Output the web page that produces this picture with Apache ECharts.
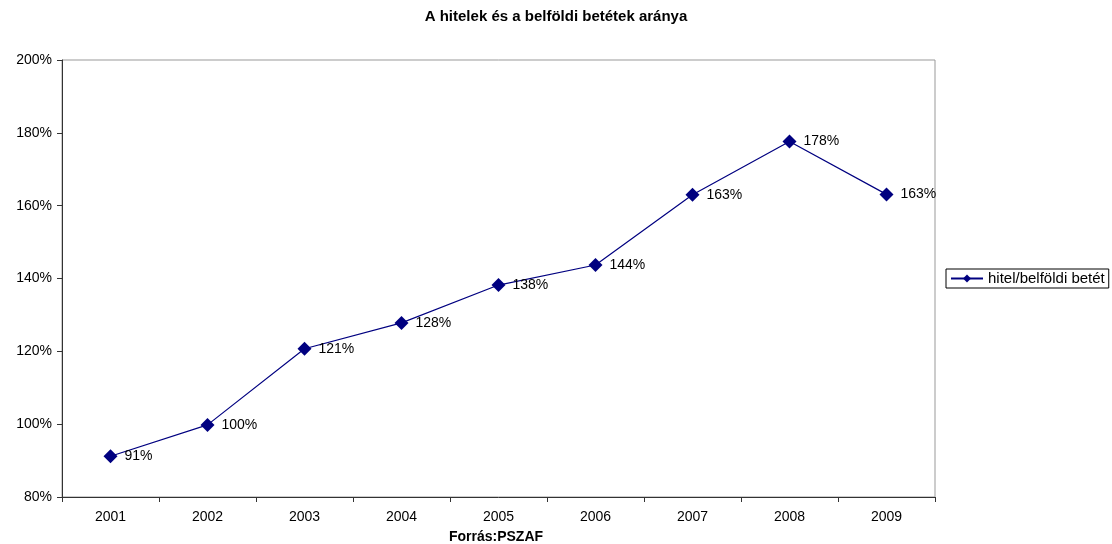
<!DOCTYPE html>
<html><head><meta charset="utf-8">
<script src="https://cdn.jsdelivr.net/npm/echarts@6/dist/echarts.min.js"></script>
<style>html,body{margin:0;padding:0;background:#fff}#c{width:1112px;height:544px}</style>
</head><body><div id="c"></div>
<script>
const categories = ['2001','2002','2003','2004','2005','2006','2007','2008','2009'];
const seriesName = 'hitel/belföldi betét';
const values = [91.2, 99.8, 120.7, 127.8, 138.2, 143.7, 163.0, 177.6, 163.1];
const yTicks = {min: 80, max: 200, interval: 20};

const chart = echarts.init(document.getElementById('c'), null, {renderer: 'canvas'});
const font = '"Liberation Sans", Arial, sans-serif';
chart.setOption({
  animation: false,
  backgroundColor: '#fff',
  title: [
    {text: 'A hitelek és a belföldi betétek aránya', left: 'center', top: 4,
     textStyle: {fontFamily: font, fontSize: 15, fontWeight: 'bold', color: '#000'}},
    {text: 'Forrás:PSZAF', left: 496, top: 530, textAlign: 'center', padding: 0,
     textStyle: {fontFamily: font, fontSize: 14, fontWeight: 'bold', color: '#000'}}
  ],
  grid: {left: 62, right: 177, top: 60, bottom: 47, show: true, borderColor: '#999', borderWidth: 1, backgroundColor: 'transparent'},
  legend: {
    data: [seriesName], left: 946, top: 269, orient: 'vertical',
    borderColor: '#000', borderWidth: 1, padding: [2, 4, 2, 4],
    itemWidth: 32, itemHeight: 10, itemGap: 4,
    textStyle: {fontFamily: font, fontSize: 15, color: '#000'}
  },
  xAxis: {
    type: 'category', data: categories, boundaryGap: true,
    axisLine: {lineStyle: {color: '#333', width: 1}},
    axisTick: {show: true, length: 5, inside: false, lineStyle: {color: '#333'}},
    axisLabel: {fontFamily: font, fontSize: 14, color: '#000', margin: 13},
    splitLine: {show: false}
  },
  yAxis: {
    type: 'value', min: yTicks.min, max: yTicks.max, interval: yTicks.interval,
    axisLine: {show: true, lineStyle: {color: '#333', width: 1}},
    axisTick: {show: true, length: 5, lineStyle: {color: '#333'}},
    axisLabel: {fontFamily: font, fontSize: 14, color: '#000', margin: 10, formatter: v => v + '%'},
    splitLine: {show: false}
  },
  series: [{
    name: seriesName, type: 'line', data: values,
    symbol: 'diamond', symbolSize: 14,
    itemStyle: {color: '#000080'},
    lineStyle: {color: '#000080', width: 1.2},
    label: {show: true, position: 'right', distance: 7, fontFamily: font, fontSize: 14, color: '#000',
            formatter: p => Math.round(p.value) + '%'}
  }]
});
</script></body></html>
